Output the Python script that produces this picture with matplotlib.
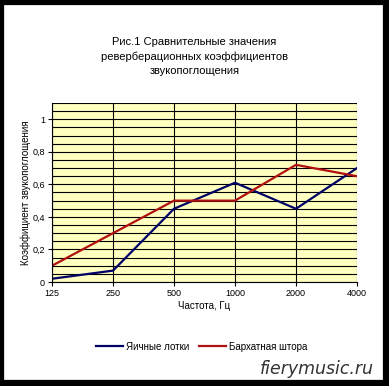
import matplotlib
matplotlib.use('Agg')
import matplotlib.pyplot as plt
from matplotlib.patches import Rectangle
import numpy as np

# data
freqs = ['125', '250', '500', '1000', '2000', '4000']
egg_trays = [0.02, 0.07, 0.45, 0.61, 0.45, 0.70]
velvet_curtain = [0.10, 0.30, 0.50, 0.50, 0.72, 0.65]
y_ticks = [0, 0.2, 0.4, 0.6, 0.8, 1]
y_tick_labels = ['0', '0,2', '0,4', '0,6', '0,8', '1']

plt.rcParams['font.family'] = ['Liberation Sans', 'DejaVu Sans']

fig = plt.figure(figsize=(3.89, 3.86), dpi=100)
fig.patch.set_facecolor('white')

# black frame round the picture
fig.patches.append(Rectangle((0.003, 0.008), 0.99, 0.988, transform=fig.transFigure,
                             fill=False, edgecolor='black', linewidth=4.5))

ax = fig.add_axes([0.1337, 0.2694, 0.7840, 0.4638])
ax.set_facecolor('#ffffc0')

x = np.arange(len(freqs))
ax.plot(x, egg_trays, color='#000066', linewidth=1.6, label='Яичные лотки')
ax.plot(x, velvet_curtain, color='#b01010', linewidth=1.6, label='Бархатная штора')

ax.set_xlim(0, len(freqs) - 1)
ax.set_ylim(0, 1.1)
ax.set_xticks(x)
ax.set_xticklabels(freqs, fontsize=6.5)
ax.set_yticks(y_ticks)
ax.set_yticklabels(y_tick_labels, fontsize=6.5)
ax.set_yticks(np.arange(0, 1.1001, 0.05), minor=True)
ax.tick_params(axis='y', which='minor', length=0)
ax.tick_params(axis='both', which='major', length=3, width=0.8, pad=2)

ax.grid(True, which='both', axis='y', color='black', linewidth=0.8)
ax.grid(True, which='major', axis='x', color='black', linewidth=0.8)
ax.set_axisbelow(True)
for side in ['top', 'right']:
    ax.spines[side].set_visible(False)
ax.spines['left'].set_linewidth(0.8)
ax.spines['bottom'].set_linewidth(0.8)

ax.set_xlabel('Частота, Гц', fontsize=7, labelpad=2)
ax.set_ylabel('Коэффициент звукопоглощения', fontsize=7, labelpad=1)

fig.text(0.5, 0.854, 'Рис.1 Сравнительные значения\nреверберационных коэффициентов\nзвукопоглощения',
         ha='center', va='center', fontsize=8, linespacing=1.55)

ax.legend(loc='upper center', bbox_to_anchor=(0.49, -0.285), ncol=2, frameon=False,
          fontsize=7, handlelength=2.8, handletextpad=0.3, columnspacing=1.0)

fig.text(0.962, 0.022, 'fierymusic.ru', ha='right', va='bottom', fontsize=12.5,
         style='italic', color='#333333', family='DejaVu Sans')

fig.savefig('out.png', dpi=100)
